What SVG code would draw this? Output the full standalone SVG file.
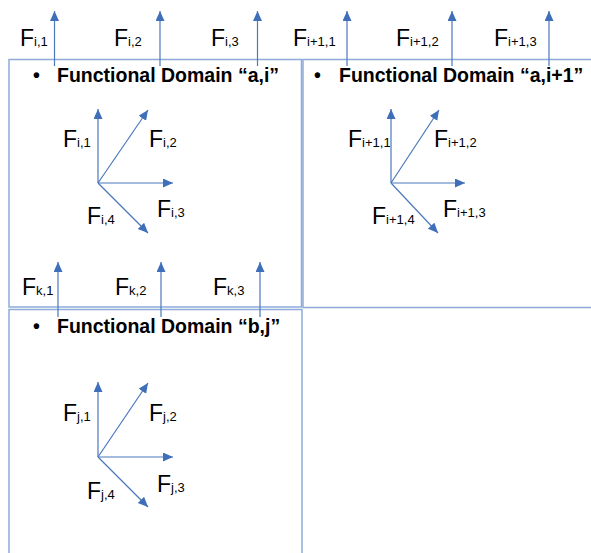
<svg xmlns="http://www.w3.org/2000/svg" width="591" height="553" viewBox="0 0 591 553">
<defs>
<style>
.box{fill:none;stroke:#8eaadb;stroke-width:1.5}
.c{stroke:#4a78bd;stroke-width:1.2;fill:none;marker-end:url(#ah)}
.f{font-family:"Liberation Sans",Arial,sans-serif;font-size:23px;fill:#000}
.s{font-size:13px}
.h{font-family:"Liberation Sans",Arial,sans-serif;font-size:19.5px;font-weight:bold;fill:#000}
</style>
<marker id="ah" markerUnits="userSpaceOnUse" markerWidth="11" markerHeight="10" refX="10" refY="4.5" orient="auto">
<path d="M0,0 L10,4.5 L0,9 z" fill="#3f6fb8"/>
</marker>
</defs>
<rect width="591" height="553" fill="#fff"/>
<g id="domain-ai">
<rect class="box" x="9" y="59.5" width="292.5" height="247.5"/>
<text class="h" x="33" y="82">•</text>
<text class="h" x="57" y="82">Functional Domain “a,i”</text>
</g>
<g id="domain-ai1">
<rect class="box" x="303" y="59.5" width="300" height="248"/>
<text class="h" x="314" y="82">•</text>
<text class="h" x="339" y="82">Functional Domain “a,i+1”</text>
</g>
<g id="domain-bj">
<rect class="box" x="9" y="309.5" width="293" height="260"/>
<text class="h" x="33" y="333">•</text>
<text class="h" x="57" y="333">Functional Domain “b,j”</text>
</g>
<g id="labels">
<text class="f" x="20" y="46">F<tspan class="s">i,1</tspan></text>
<text class="f" x="114" y="46">F<tspan class="s">i,2</tspan></text>
<text class="f" x="211" y="46">F<tspan class="s">i,3</tspan></text>
<text class="f" x="293" y="46">F<tspan class="s">i+1,1</tspan></text>
<text class="f" x="396" y="46">F<tspan class="s">i+1,2</tspan></text>
<text class="f" x="494" y="46">F<tspan class="s">i+1,3</tspan></text>
<text class="f" x="63" y="147">F<tspan class="s">i,1</tspan></text>
<text class="f" x="149" y="147">F<tspan class="s">i,2</tspan></text>
<text class="f" x="157" y="217">F<tspan class="s">i,3</tspan></text>
<text class="f" x="87" y="224">F<tspan class="s">i,4</tspan></text>
<text class="f" x="348" y="147">F<tspan class="s">i+1,1</tspan></text>
<text class="f" x="434" y="147">F<tspan class="s">i+1,2</tspan></text>
<text class="f" x="443" y="217">F<tspan class="s">i+1,3</tspan></text>
<text class="f" x="372" y="224">F<tspan class="s">i+1,4</tspan></text>
<text class="f" x="22" y="295">F<tspan class="s">k,1</tspan></text>
<text class="f" x="115" y="295">F<tspan class="s">k,2</tspan></text>
<text class="f" x="213" y="295">F<tspan class="s">k,3</tspan></text>
<text class="f" x="63" y="421">F<tspan class="s">j,1</tspan></text>
<text class="f" x="149" y="421">F<tspan class="s">j,2</tspan></text>
<text class="f" x="157" y="492">F<tspan class="s">j,3</tspan></text>
<text class="f" x="87" y="499">F<tspan class="s">j,4</tspan></text>
</g>
<g id="connectors">
<line class="c" x1="54.5" y1="66" x2="54.5" y2="11"/>
<line class="c" x1="160" y1="66" x2="160" y2="11"/>
<line class="c" x1="257.5" y1="66" x2="257.5" y2="11"/>
<line class="c" x1="347" y1="66" x2="347" y2="11"/>
<line class="c" x1="452" y1="66" x2="452" y2="11"/>
<line class="c" x1="549" y1="66" x2="549" y2="11"/>
<line class="c" x1="98" y1="183" x2="98" y2="109"/>
<line class="c" x1="98" y1="183" x2="148" y2="110"/>
<line class="c" x1="98" y1="183" x2="173" y2="183"/>
<line class="c" x1="98" y1="183" x2="148" y2="233"/>
<line class="c" x1="391" y1="183" x2="391" y2="109"/>
<line class="c" x1="391" y1="183" x2="439" y2="110"/>
<line class="c" x1="391" y1="183" x2="465" y2="183"/>
<line class="c" x1="391" y1="183" x2="438" y2="233"/>
<line class="c" x1="58" y1="317" x2="58" y2="262"/>
<line class="c" x1="161" y1="317" x2="161" y2="262"/>
<line class="c" x1="260" y1="317" x2="260" y2="262"/>
<line class="c" x1="98" y1="457" x2="98" y2="382"/>
<line class="c" x1="98" y1="457" x2="148" y2="383"/>
<line class="c" x1="98" y1="457" x2="173" y2="457"/>
<line class="c" x1="98" y1="457" x2="148" y2="507"/>
</g>
</svg>
